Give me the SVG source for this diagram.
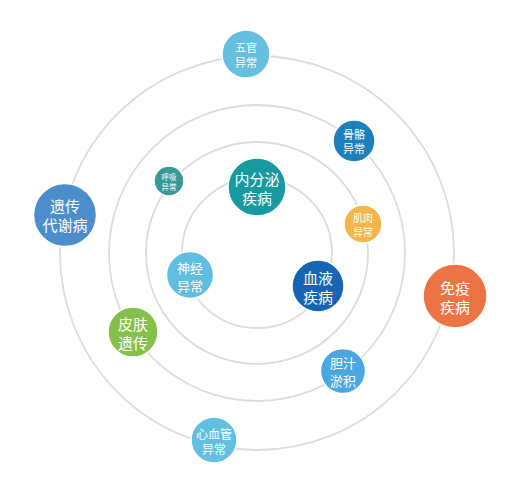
<svg xmlns="http://www.w3.org/2000/svg" width="515" height="500" viewBox="0 0 515 500">
<style>
.ring{fill:none;stroke:#dcdcdc;stroke-width:1.8}
.n{stroke:#fff;stroke-width:1.5}
text{fill:#fff;font-family:"Noto Sans CJK SC","Noto Sans",sans-serif;text-anchor:middle;dominant-baseline:central}
</style>
<rect width="515" height="500" fill="#fff"/>
<g id="connectors">
<circle class="ring" cx="257" cy="253" r="75"/>
<circle class="ring" cx="257" cy="253" r="111"/>
<circle class="ring" cx="257" cy="253" r="148"/>
<circle class="ring" cx="257" cy="253" r="197"/>
</g>
<g id="n-wuguan"><circle class="n" cx="246" cy="54" r="24" fill="#66bfdf"/><text font-size="11"><tspan x="246" y="46.5">五官</tspan><tspan x="246" y="61.5">异常</tspan></text></g>
<g id="n-guge"><circle class="n" cx="354" cy="141" r="21" fill="#1e7fbd"/><text font-size="11"><tspan x="354" y="133.5">骨骼</tspan><tspan x="354" y="148">异常</tspan></text></g>
<g id="n-huxi"><circle class="n" cx="169" cy="181" r="15" fill="#3a9898"/><text font-size="7.5"><tspan x="169" y="176">呼吸</tspan><tspan x="169" y="186">异常</tspan></text></g>
<g id="n-neifenmi"><circle class="n" cx="257" cy="187" r="29" fill="#17999f"/><text font-size="15"><tspan x="257" y="178">内分泌</tspan><tspan x="257" y="197">疾病</tspan></text></g>
<g id="n-jirou"><circle class="n" cx="363" cy="224" r="19" fill="#f4b54a"/><text font-size="10"><tspan x="363" y="217">肌肉</tspan><tspan x="363" y="231">异常</tspan></text></g>
<g id="n-yichuan"><circle class="n" cx="65" cy="215" r="31.5" fill="#4b8ecb"/><text font-size="15"><tspan x="65" y="205">遗传</tspan><tspan x="65" y="224">代谢病</tspan></text></g>
<g id="n-shenjing"><circle class="n" cx="190" cy="275" r="23.5" fill="#5fbde0"/><text font-size="13"><tspan x="190" y="266.5">神经</tspan><tspan x="190" y="284.5">异常</tspan></text></g>
<g id="n-xueye"><circle class="n" cx="318" cy="286" r="26" fill="#1565b3"/><text font-size="15"><tspan x="318" y="276.5">血液</tspan><tspan x="318" y="295.5">疾病</tspan></text></g>
<g id="n-mianyi"><circle class="n" cx="455" cy="296" r="32" fill="#ec7444"/><text font-size="15"><tspan x="455" y="286.5">免疫</tspan><tspan x="455" y="305.5">疾病</tspan></text></g>
<g id="n-pifu"><circle class="n" cx="133" cy="332" r="25" fill="#85c14a"/><text font-size="15"><tspan x="133" y="322.5">皮肤</tspan><tspan x="133" y="341.5">遗传</tspan></text></g>
<g id="n-danzhi"><circle class="n" cx="343" cy="371" r="22.5" fill="#4aa7df"/><text font-size="13"><tspan x="343" y="362">胆汁</tspan><tspan x="343" y="380">淤积</tspan></text></g>
<g id="n-xinxueguan"><circle class="n" cx="214" cy="440" r="23" fill="#62bfdf"/><text font-size="12"><tspan x="214" y="432.5">心血管</tspan><tspan x="214" y="448">异常</tspan></text></g>
</svg>
